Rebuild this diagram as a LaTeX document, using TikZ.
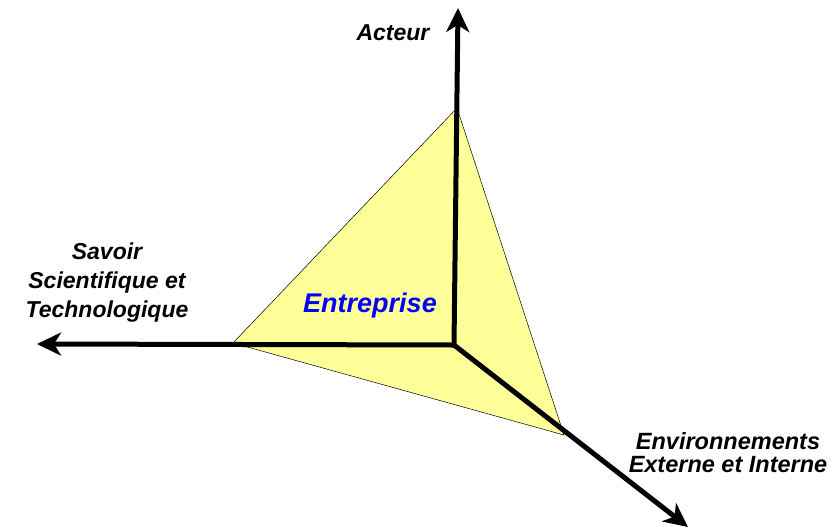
\documentclass[tikz,border=0pt]{standalone}
\usepackage{fontspec}
\setmainfont{Liberation Sans}
\usetikzlibrary{arrows.meta}
\definecolor{paleyellow}{RGB}{255,255,153}
\tikzset{axis/.style={line width=5pt,-{Stealth[length=24pt,width=23pt,inset=7pt]}},
         label/.style={font=\bfseries\itshape\fontsize{23}{29}\selectfont,align=center,inner sep=0pt}}

\begin{document}
\begin{tikzpicture}[x=1pt,y=-1pt]
            \useasboundingbox (0,0) rectangle (838,531);
            \coordinate (O) at (454,345);
            \coordinate (top) at (457,108);
            \coordinate (left) at (233,343);
            \coordinate (bottom) at (564,435);
            \coordinate (acteurtip) at (458,8);
            \coordinate (savoirtip) at (37,344);
            \coordinate (envtip) at (688,527);

            \fill[paleyellow,draw=black,line width=0.5pt] (top) -- (left) -- (bottom) -- cycle;
            \draw[axis] (O) -- (acteurtip);
            \draw[axis] (O) -- (savoirtip);
            \draw[axis] (O) -- (envtip);

            \node[label] (acteur) at (393,33) {Acteur};
            \node[label] (savoir) at (107,283) {Savoir\\Scientifique et\\Technologique};
            \node[label,font=\bfseries\itshape\fontsize{23.5}{23}\selectfont] (env) at (728,453) {Environnements\\Externe et Interne};
            \node[label,text=blue,font=\bfseries\itshape\fontsize{27}{30}\selectfont] (entreprise) at (370,306) {Entreprise};
        \end{tikzpicture}
\end{document}
